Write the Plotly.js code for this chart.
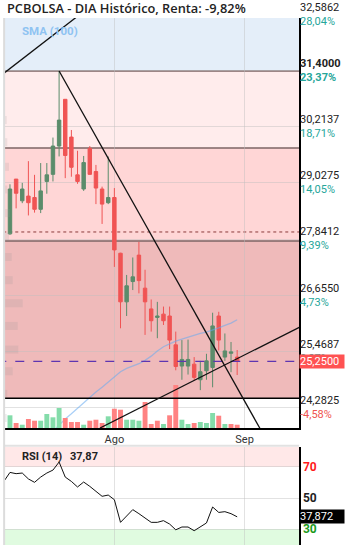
<!DOCTYPE html>
<html><head><meta charset="utf-8">
<script src="https://cdn.plot.ly/plotly-3.0.1.min.js"></script>
<style>html,body{margin:0;padding:0;background:#fff;}#chart{width:353px;height:551px;}</style>
</head><body><div id="chart"></div>
<script>
// ---- data ----
const idx = [0,1,2,3,4,5,6,7,8,9,10,11,12,13,14,15,16,17,18,19,20,21,22,23,24,25,26,27,28,29,30,31,32,33,34,35,36,37];
const openP  = [27.95,29.11,28.65,28.75,28.72,28.47,29.06,29.21,29.81,30.80,30.00,29.20,28.90,29.76,29.27,28.90,28.61,28.72,27.54,26.51,26.94,27.50,26.80,26.36,26.18,26.25,26.21,25.60,25.15,25.15,25.19,24.86,25.05,25.12,26.21,25.34,25.42,25.34];
const highP  = [29.00,29.11,29.03,29.49,29.20,29.45,29.45,29.99,31.40,30.80,30.15,29.71,29.60,29.81,29.41,28.95,29.59,28.92,27.55,27.08,27.45,27.78,27.19,26.56,26.51,26.41,26.41,25.88,25.70,25.71,25.34,25.26,25.41,26.28,26.30,25.84,25.66,25.49];
const lowP   = [27.93,28.49,28.60,28.34,28.40,28.39,28.80,29.06,29.59,29.13,29.16,29.01,28.86,29.20,28.58,28.16,28.58,27.25,25.95,26.21,26.76,26.69,25.81,25.88,25.74,26.02,25.51,25.06,24.86,24.97,24.84,24.64,24.86,24.70,25.48,25.26,25.02,24.96];
const closeP = [28.90,28.81,28.90,28.61,28.47,28.86,29.20,29.81,30.36,29.61,29.36,29.06,29.46,29.21,28.92,28.58,28.72,27.61,26.51,26.85,27.04,26.96,26.51,26.11,26.21,26.11,25.70,25.14,25.29,25.29,24.91,25.03,25.26,26.00,25.70,25.47,25.45,25.25];
const volume = [127,50,33,90,73,73,140,107,200,100,60,60,33,73,83,50,117,193,183,83,83,73,260,40,73,40,127,430,83,40,50,60,50,150,123,40,40,33];
const volUp  = [1,0,1,0,0,1,1,1,1,0,0,0,1,0,0,0,1,0,0,1,1,1,0,0,0,1,0,0,1,1,0,1,1,1,0,1,0,0];
const smaIdx = [7,8,9,10,11,12,13,14,15,16,17,18,19,20,21,22,23,24,25,26,27,28,29,30,31,32,33,34,35,36,37];
const sma100 = [23.77,23.91,24.03,24.14,24.26,24.38,24.49,24.60,24.70,24.81,24.93,25.03,25.10,25.15,25.20,25.27,25.36,25.47,25.56,25.62,25.68,25.72,25.76,25.81,25.84,25.87,25.91,25.96,26.01,26.06,26.13];
const rsiIdx = [-1,0,1,2,3,4,5,6,7,8,9,10,11,12,13,14,15,16,17,18,19,20,21,22,23,24,25,26,27,28,29,30,31,32,33,34,35,36,37];
const rsi14  = [60.7,66.5,65.7,66.1,62.3,60.1,63.5,66.1,68.0,73.2,63.5,60.7,57.1,60.3,57.5,54.3,51.1,51.9,48.9,34.3,38.5,42.5,39.9,37.1,34.3,34.3,35.4,33.2,29.5,31.3,31.3,28.9,31.3,33.9,44.2,40.7,41.2,39.9,37.87];
const profPrice = [30.36,29.89,29.37,28.89,28.39,27.89,27.46,26.97,26.48,26.00,25.50,25.04,24.56,24.05];
const profSize  = [1.7,2.3,4.0,2.3,5.0,4.0,6.7,7.7,17.7,12.7,13.3,7.7,2.3,1.7];
const levels   = [32.5862,31.4000,30.2137,29.0275,27.8412,26.6550,25.4687,24.2825];
const levelTxt = ['32,5862','31,4000','30,2137','29,0275','27,8412','26,6550','25,4687','24,2825'];
const pctTxt   = ['28,04%','23,37%','18,71%','14,05%','9,39%','4,73%','0,07%','-4,58%'];
const lastPrice = 25.25, lastPriceTxt = '25,2500';
const lastRsi = 37.872, lastRsiTxt = '37,872', rsiTitleVal = '37,87';
const zoneBounds = [33.5, 31.40, 29.77, 27.80, 24.47];
const fibLines = [31.40, 29.77, 27.80];
const prevRef = 27.99;
const trendDown = [[8.0, 31.40],[43.0, 23.30]];
const trendUp   = [[14.66, 23.838],[48.0, 26.03]];
const trendTop  = [[-2.0, 31.25],[13.0, 32.76]];
const monthTicks = [17, 38.2], monthTxt = ['Ago','Sep'];
const titleTxt = 'PCBOLSA - DIA Histórico, Renta: -9,82%';

// ---- styles ----
const UP='#5b8c6b', DN='#f05454';
const zoneColors=['#e4eef9','#ffecec','#ffd6d6','#efbaba'];
const xr=[-0.81,47.07];
const yr=[23.838,32.522];

const traces=[
 {type:'candlestick',x:idx,open:openP,high:highP,low:lowP,close:closeP,xaxis:'x',yaxis:'y',
  increasing:{line:{color:UP,width:1},fillcolor:UP},decreasing:{line:{color:DN,width:1},fillcolor:DN},
  whiskerwidth:0,hoverinfo:'none'},
 {type:'scatter',mode:'lines',x:smaIdx,y:sma100,xaxis:'x',yaxis:'y',line:{color:'rgba(100,170,240,0.55)',width:1.3},hoverinfo:'none'},
 {type:'bar',x:idx,y:volume,xaxis:'x',yaxis:'y2',width:0.8,marker:{color:volUp.map(u=>u?'#84dcaa':'#ff8282')},hoverinfo:'none'},
 {type:'bar',orientation:'h',x:profSize,y:profPrice,xaxis:'x2',yaxis:'y',width:0.17,marker:{color:'rgba(150,150,150,0.17)'},hoverinfo:'none'},
 {type:'scatter',mode:'lines',x:rsiIdx,y:rsi14,xaxis:'x3',yaxis:'y3',line:{color:'#111',width:1},hoverinfo:'none'}
];

const shapes=[];
for(let i=0;i<zoneColors.length;i++){
 shapes.push({type:'rect',xref:'x',yref:'y',x0:-5,x1:60,y0:zoneBounds[i+1],y1:zoneBounds[i],fillcolor:zoneColors[i],line:{width:0},layer:'below'});
}
fibLines.forEach(v=>shapes.push({type:'line',xref:'x',yref:'y',x0:-5,x1:60,y0:v,y1:v,line:{color:'#7d6464',width:1.4},layer:'below'}));
shapes.push({type:'line',xref:'x',yref:'y',x0:-5,x1:60,y0:prevRef,y1:prevRef,line:{color:'#8b3a3a',width:1,dash:'dot'},layer:'below'});
shapes.push({type:'line',xref:'x',yref:'y',x0:-5,x1:60,y0:zoneBounds[4],y1:zoneBounds[4],line:{color:'#000',width:1.5}});
shapes.push({type:'line',xref:'x',yref:'y',x0:-5,x1:60,y0:lastPrice,y1:lastPrice,line:{color:'#5e35b1',width:1.2,dash:'dash'}});
[trendDown,trendUp,trendTop].forEach(t=>shapes.push({type:'line',xref:'x',yref:'y',x0:t[0][0],y0:t[0][1],x1:t[1][0],y1:t[1][1],line:{color:'#111',width:1.3}}));
// RSI bands
shapes.push({type:'rect',xref:'x3',yref:'y3',x0:-5,x1:60,y0:70,y1:90,fillcolor:'#ffe8e8',line:{width:0},layer:'below'});
shapes.push({type:'rect',xref:'x3',yref:'y3',x0:-5,x1:60,y0:10,y1:30,fillcolor:'#e0fbe0',line:{width:0},layer:'below'});
// panel separator & left edge
shapes.push({type:'line',xref:'paper',yref:'paper',x0:0,x1:1,y0:0.1885,y1:0.1885,line:{color:'#e2e2e2',width:2}});
shapes.push({type:'line',xref:'paper',yref:'paper',x0:-0.003,x1:-0.003,y0:0,y1:1,line:{color:'#dcdcdc',width:2}});

// convert a main-axis price to paper y (main domain 0.222..1)
const dom=[0.222,1];
const toPaper=v=>dom[0]+(v-yr[0])/(yr[1]-yr[0])*(dom[1]-dom[0]);

const F='Roboto, sans-serif';
const ann=[];
ann.push({xref:'paper',yref:'paper',x:0,y:1,xanchor:'left',yanchor:'bottom',yshift:-1,text:titleTxt,showarrow:false,
 font:{family:'Open Sans, sans-serif',size:12.8,color:'#222',weight:600}});
ann.push({xref:'paper',yref:'paper',x:0.05,y:0.976,xanchor:'left',yanchor:'middle',text:'SMA (100)',showarrow:false,
 font:{family:F,size:11.5,color:'#8fc3f2',weight:700}});
levels.forEach((v,i)=>{
 const b=(i===1);
 const col=pctTxt[i][0]==='-'?'#ef5350':'#26a69a';
 const t1=b?'<b>'+levelTxt[i]+'</b>':levelTxt[i];
 const t2='<span style="color:'+col+'">'+(b?'<b>'+pctTxt[i]+'</b>':pctTxt[i])+'</span>';
 ann.push({xref:'paper',yref:'paper',x:1,y:toPaper(v),xanchor:'left',yanchor:'middle',xshift:-1,showarrow:false,align:'left',
  text:t1+'<br>'+t2,font:{family:F,size:11,color:'#222'}});
});
ann.push({xref:'paper',yref:'y',x:1,y:lastPrice,xanchor:'left',yanchor:'middle',showarrow:false,text:lastPriceTxt,
 bgcolor:'#ff5252',width:44,height:13,align:'left',borderpad:0,font:{family:F,size:11,color:'#fff'}});
ann.push({xref:'paper',yref:'y3',x:1,y:lastRsi,xanchor:'left',yanchor:'middle',showarrow:false,text:lastRsiTxt,
 bgcolor:'#000',width:44,height:13,align:'left',borderpad:0,font:{family:F,size:11,color:'#fff'}});
ann.push({xref:'paper',yref:'paper',x:0.05,y:0.167,xanchor:'left',yanchor:'middle',showarrow:false,text:'RSI (14)',
 font:{family:F,size:11,color:'#222',weight:700}});
ann.push({xref:'paper',yref:'paper',x:0.213,y:0.167,xanchor:'left',yanchor:'middle',showarrow:false,text:rsiTitleVal,
 font:{family:F,size:11,color:'#222',weight:700}});

const layout={
 width:353,height:551,margin:{l:5,r:54,t:18,b:6},paper_bgcolor:'#fff',plot_bgcolor:'#fff',showlegend:false,
 font:{family:F,size:11,color:'#333'},
 xaxis:{domain:[0,1],anchor:'y',range:xr,tickvals:monthTicks,ticktext:monthTxt,showgrid:true,gridcolor:'rgba(190,190,190,0.45)',
  showline:true,linecolor:'#000',linewidth:1.5,zeroline:false,ticks:'',tickfont:{family:F,size:11,color:'#333'},rangeslider:{visible:false},fixedrange:true},
 xaxis2:{overlaying:'x',range:[0,294],visible:false,fixedrange:true},
 yaxis:{domain:dom,anchor:'x',range:yr,side:'right',tickvals:levels,showticklabels:false,showgrid:true,
  gridcolor:'rgba(190,190,190,0.45)',showline:true,linecolor:'#000',linewidth:1.5,zeroline:false,ticks:'',fixedrange:true},
 yaxis2:{overlaying:'y',range:[0,4100],visible:false,fixedrange:true},
 xaxis3:{domain:[0,1],anchor:'y3',range:xr,tickvals:monthTicks,showticklabels:false,showgrid:true,gridcolor:'rgba(190,190,190,0.45)',
  showline:false,zeroline:false,ticks:'',fixedrange:true},
 yaxis3:{domain:[0,0.186],anchor:'x3',range:[19.7,82.9],side:'right',tickvals:[70,50,30],
  ticktext:['<span style="color:#ff1a1a">70</span>','<span style="color:#222">50</span>','<span style="color:#1a9a1a">30</span>'],
  tickfont:{family:F,size:12,weight:700},showgrid:true,gridcolor:'rgba(190,190,190,0.45)',showline:true,linecolor:'#000',linewidth:1.5,
  zeroline:false,ticks:'',fixedrange:true},
 shapes:shapes,annotations:ann,boxgap:0.2
};
Plotly.newPlot('chart',traces,layout,{staticPlot:true,displayModeBar:false});
</script></body></html>
